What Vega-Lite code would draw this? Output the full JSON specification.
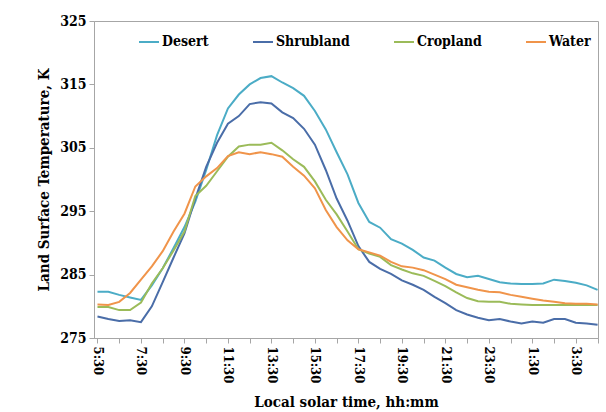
{
  "$schema": "https://vega.github.io/schema/vega-lite/v6.json",
  "autosize": "none",
  "padding": {"left": 94, "top": 21, "right": 8, "bottom": 74},
  "width": 504,
  "height": 317,
  "background": "white",
  "config": {
    "view": {"stroke": "#a6a6a6", "strokeWidth": 1},
    "font": "DejaVu Serif Condensed, DejaVu Serif"
  },
  "data": {
    "values": [
      {"h": 5.5, "Desert": 282.3, "Shrubland": 278.4, "Cropland": 279.9, "Water": 280.3},
      {"h": 6.0, "Desert": 282.3, "Shrubland": 278.0, "Cropland": 279.9, "Water": 280.2},
      {"h": 6.5, "Desert": 281.8, "Shrubland": 277.7, "Cropland": 279.4, "Water": 280.7},
      {"h": 7.0, "Desert": 281.4, "Shrubland": 277.8, "Cropland": 279.4, "Water": 282.1},
      {"h": 7.5, "Desert": 281.0, "Shrubland": 277.5, "Cropland": 280.6, "Water": 284.2},
      {"h": 8.0, "Desert": 283.3, "Shrubland": 280.0, "Cropland": 283.6, "Water": 286.3},
      {"h": 8.5, "Desert": 286.0, "Shrubland": 283.8, "Cropland": 286.0, "Water": 288.7},
      {"h": 9.0, "Desert": 289.2, "Shrubland": 287.7, "Cropland": 288.8, "Water": 291.8},
      {"h": 9.5, "Desert": 292.5, "Shrubland": 291.5, "Cropland": 291.8, "Water": 294.6},
      {"h": 10.0, "Desert": 296.5, "Shrubland": 297.0, "Cropland": 297.4, "Water": 298.9},
      {"h": 10.5, "Desert": 301.5, "Shrubland": 302.0, "Cropland": 299.0, "Water": 300.5},
      {"h": 11.0, "Desert": 307.0, "Shrubland": 305.8, "Cropland": 301.3, "Water": 301.8},
      {"h": 11.5, "Desert": 311.2, "Shrubland": 308.8, "Cropland": 303.6, "Water": 303.7},
      {"h": 12.0, "Desert": 313.4, "Shrubland": 310.0, "Cropland": 305.2, "Water": 304.3},
      {"h": 12.5, "Desert": 315.0, "Shrubland": 311.9, "Cropland": 305.5, "Water": 304.0},
      {"h": 13.0, "Desert": 316.0, "Shrubland": 312.2, "Cropland": 305.5, "Water": 304.3},
      {"h": 13.5, "Desert": 316.3, "Shrubland": 312.0, "Cropland": 305.8, "Water": 304.0},
      {"h": 14.0, "Desert": 315.3, "Shrubland": 310.6, "Cropland": 304.6, "Water": 303.6},
      {"h": 14.5, "Desert": 314.4, "Shrubland": 309.7, "Cropland": 303.2, "Water": 302.0},
      {"h": 15.0, "Desert": 313.2, "Shrubland": 308.0, "Cropland": 302.0, "Water": 300.6},
      {"h": 15.5, "Desert": 310.8, "Shrubland": 305.5, "Cropland": 299.7, "Water": 298.6},
      {"h": 16.0, "Desert": 307.9, "Shrubland": 301.5, "Cropland": 296.8, "Water": 295.2},
      {"h": 16.5, "Desert": 304.3, "Shrubland": 297.0, "Cropland": 294.5, "Water": 292.5},
      {"h": 17.0, "Desert": 300.8, "Shrubland": 293.5, "Cropland": 291.8, "Water": 290.4},
      {"h": 17.5, "Desert": 296.3, "Shrubland": 289.5, "Cropland": 289.0, "Water": 289.0},
      {"h": 18.0, "Desert": 293.3, "Shrubland": 287.0, "Cropland": 288.3, "Water": 288.5},
      {"h": 18.5, "Desert": 292.4, "Shrubland": 285.9, "Cropland": 287.8, "Water": 288.0},
      {"h": 19.0, "Desert": 290.6, "Shrubland": 285.1, "Cropland": 286.5, "Water": 287.0},
      {"h": 19.5, "Desert": 289.9, "Shrubland": 284.1, "Cropland": 285.8, "Water": 286.3},
      {"h": 20.0, "Desert": 288.9, "Shrubland": 283.4, "Cropland": 285.2, "Water": 286.1},
      {"h": 20.5, "Desert": 287.7, "Shrubland": 282.6, "Cropland": 284.8, "Water": 285.7},
      {"h": 21.0, "Desert": 287.2, "Shrubland": 281.5, "Cropland": 284.0, "Water": 285.0},
      {"h": 21.5, "Desert": 286.1, "Shrubland": 280.5, "Cropland": 283.2, "Water": 284.3},
      {"h": 22.0, "Desert": 285.1, "Shrubland": 279.4, "Cropland": 282.2, "Water": 283.4},
      {"h": 22.5, "Desert": 284.6, "Shrubland": 278.7, "Cropland": 281.3, "Water": 283.0},
      {"h": 23.0, "Desert": 284.8, "Shrubland": 278.2, "Cropland": 280.8, "Water": 282.6},
      {"h": 23.5, "Desert": 284.3, "Shrubland": 277.8, "Cropland": 280.7, "Water": 282.3},
      {"h": 24.0, "Desert": 283.8, "Shrubland": 278.0, "Cropland": 280.7, "Water": 282.2},
      {"h": 24.5, "Desert": 283.6, "Shrubland": 277.6, "Cropland": 280.4, "Water": 281.8},
      {"h": 25.0, "Desert": 283.5, "Shrubland": 277.3, "Cropland": 280.3, "Water": 281.5},
      {"h": 25.5, "Desert": 283.5, "Shrubland": 277.6, "Cropland": 280.2, "Water": 281.2},
      {"h": 26.0, "Desert": 283.6, "Shrubland": 277.4, "Cropland": 280.2, "Water": 280.9},
      {"h": 26.5, "Desert": 284.2, "Shrubland": 278.0, "Cropland": 280.2, "Water": 280.7},
      {"h": 27.0, "Desert": 284.0, "Shrubland": 278.0, "Cropland": 280.2, "Water": 280.5},
      {"h": 27.5, "Desert": 283.7, "Shrubland": 277.4, "Cropland": 280.2, "Water": 280.4},
      {"h": 28.0, "Desert": 283.3, "Shrubland": 277.3, "Cropland": 280.2, "Water": 280.4},
      {"h": 28.5, "Desert": 282.6, "Shrubland": 277.1, "Cropland": 280.2, "Water": 280.3}
    ]
  },
  "transform": [
    {"fold": ["Desert", "Shrubland", "Cropland", "Water"], "as": ["type", "T"]}
  ],
  "mark": {"type": "line", "strokeWidth": 2},
  "encoding": {
    "x": {
      "field": "h",
      "type": "quantitative",
      "scale": {"domain": [5.34, 28.52], "nice": false, "zero": false},
      "axis": {
        "title": "Local solar time, hh:mm",
        "titleFont": "DejaVu Serif Condensed, DejaVu Serif",
        "titleFontSize": 15,
        "titleFontWeight": "bold",
        "titleColor": "black",
        "titlePadding": 12,
        "values": [5.5, 6.5, 7.5, 8.5, 9.5, 10.5, 11.5, 12.5, 13.5, 14.5, 15.5, 16.5, 17.5, 18.5, 19.5, 20.5, 21.5, 22.5, 23.5, 24.5, 25.5, 26.5, 27.5, 28.5],
        "labelExpr": "((datum.value - 5.5) % 2 == 0) ? (floor(datum.value % 24) + ':30') : ''",
        "labelAngle": 90,
        "labelAlign": "left",
        "labelBaseline": "middle",
        "labelFont": "DejaVu Serif Condensed, DejaVu Serif",
        "labelFontSize": 13,
        "labelFontWeight": "bold",
        "labelColor": "black",
        "labelPadding": 3,
        "labelOverlap": false,
        "labelFlush": false,
        "grid": false,
        "tickSize": 5,
        "tickColor": "#a6a6a6",
        "domainColor": "#a6a6a6"
      }
    },
    "y": {
      "field": "T",
      "type": "quantitative",
      "scale": {"domain": [275, 325], "nice": false, "zero": false},
      "axis": {
        "title": "Land Surface Temperature, K",
        "titleFont": "DejaVu Serif Condensed, DejaVu Serif",
        "titleFontSize": 15,
        "titleFontWeight": "bold",
        "titleColor": "black",
        "titlePadding": 8,
        "values": [275, 285, 295, 305, 315, 325],
        "labelFont": "DejaVu Serif Condensed, DejaVu Serif",
        "labelFontSize": 14,
        "labelFontWeight": "bold",
        "labelColor": "black",
        "labelPadding": 3,
        "grid": false,
        "tickSize": 5,
        "tickColor": "#a6a6a6",
        "domainColor": "#a6a6a6"
      }
    },
    "color": {
      "field": "type",
      "type": "nominal",
      "scale": {
        "domain": ["Desert", "Shrubland", "Cropland", "Water"],
        "range": ["#4BACC6", "#4A6DA8", "#9BBB59", "#F0944A"]
      },
      "legend": {
        "title": null,
        "orient": "none",
        "legendX": 44,
        "legendY": 10,
        "direction": "horizontal",
        "columns": 4,
        "columnPadding": 40,
        "symbolType": "stroke",
        "symbolSize": 400,
        "symbolStrokeWidth": 2,
        "labelFont": "DejaVu Serif Condensed, DejaVu Serif",
        "labelFontSize": 14,
        "labelFontWeight": "bold",
        "labelColor": "black",
        "labelOffset": 2
      }
    }
  }
}
